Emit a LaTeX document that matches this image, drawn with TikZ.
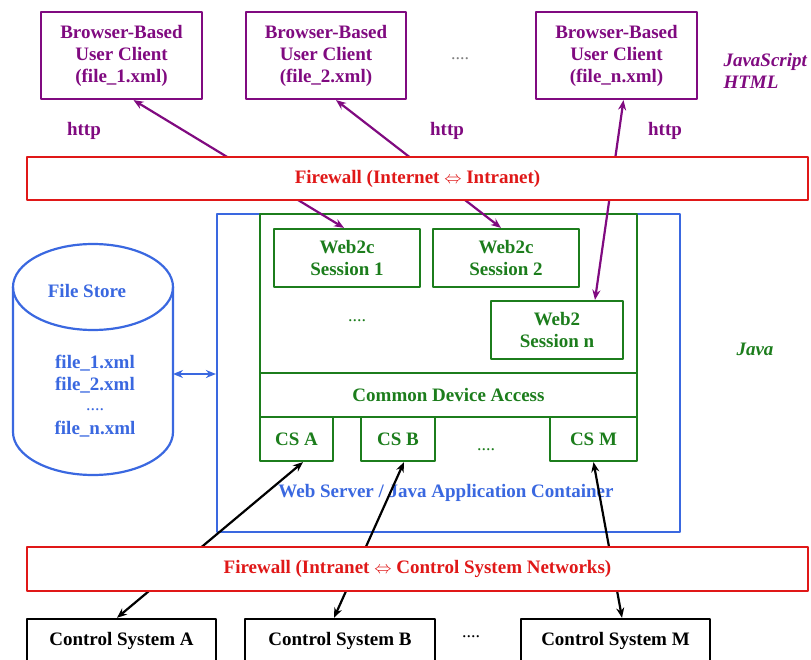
\documentclass[tikz,border=0pt]{standalone}
\usepackage{fontspec}
\setmainfont{Liberation Serif}
\usetikzlibrary{arrows.meta}
\definecolor{wpurple}{HTML}{800A80}
\definecolor{wred}{HTML}{E01818}
\definecolor{wgreen}{HTML}{1C7D1C}
\definecolor{wblue}{HTML}{3A68E0}
\begin{document}
\begin{tikzpicture}[x=1pt, y=-1pt, line join=round, >={Stealth[length=10pt, width=8pt]},
  font=\fontsize{19}{22}\selectfont\bfseries,
  client/.style={draw=wpurple, text=wpurple, line width=2.2pt, minimum width=161, minimum height=87, align=center, inner sep=0pt},
  fwall/.style={draw=wred, fill=white, text=wred, line width=2.8pt, minimum width=781, minimum height=43, inner sep=0pt},
  grn/.style={draw=wgreen, text=wgreen, line width=2.2pt, minimum height=44, inner sep=0pt, align=center},
  ctrl/.style={draw, line width=2.4pt, minimum width=189, minimum height=44, inner sep=0pt},
  dots/.style={font=\fontsize{18}{20}\selectfont\mdseries},
  pline/.style={<->, wpurple, line width=2.2pt},
  kline/.style={<->, black, line width=2.2pt}]
\useasboundingbox (0,0) rectangle (811,660);
% web server / java container
\path
(448.5,373) node[draw=wblue, line width=2.2pt, minimum width=463, minimum height=318] (web) {}
(446,493) node[text=wblue] (wlab) {Web Server / Java Application Container}
(448.5,293.5) node[grn, minimum width=377, minimum height=159] (app) {}
(448.5,395) node[grn, minimum width=377] (cda) {Common Device Access}
(296.5,439) node[grn, minimum width=73] (csa) {CS A}
(398,439) node[grn, minimum width=74] (csb) {CS B}
(593.5,439) node[grn, minimum width=87] (csm) {CS M}
(486,450) node[dots, text=wgreen] (csdots) {....}
(347,258) node[grn, minimum width=146, minimum height=58] (s1) {Web2c\\Session 1}
(506,258) node[grn, minimum width=146, minimum height=58] (s2) {Web2c\\Session 2}
(557,330) node[grn, minimum width=132, minimum height=58] (sn) {Web2\\Session n}
(357,321) node[dots, text=wgreen] (sdots) {....}
(755,349) node[text=wgreen, font=\fontsize{19}{22}\selectfont\bfseries\itshape] (java) {Java};
% clients
\path
(121.5,55.5) node[client] (b1) {Browser-Based\\User Client\\(file\_1.xml)}
(326,55.5) node[client, minimum width=160] (b2) {Browser-Based\\User Client\\(file\_2.xml)}
(616.5,55.5) node[client] (bn) {Browser-Based\\User Client\\(file\_n.xml)}
(460,59) node[dots, text=gray] (bdots) {....}
(720,71) node[anchor=west, align=left, text=wpurple, font=\fontsize{19}{22}\selectfont\bfseries\itshape] (js) {JavaScript\\HTML}
(84,131) node[text=wpurple] (h1) {http}
(447,131) node[text=wpurple] (h2) {http}
(665,131) node[text=wpurple] (h3) {http};
% control systems
\path
(121.5,641) node[ctrl] (ca) {Control System A}
(340,641) node[ctrl, minimum width=190] (cb) {Control System B}
(615.5,641) node[ctrl] (cm) {Control System M}
(471,637) node[dots] (cdots) {....};
% links
\draw[pline] ([xshift=12]b1.south)--([xshift=-3]s1.north);
\draw[pline] ([xshift=10]b2.south)--([xshift=-5]s2.north);
\draw[pline] ([xshift=7]bn.south)--([xshift=38]sn.north);
\draw[kline] ([xshift=6.5]csa.south)--([xshift=-4.5]ca.north);
\draw[kline] ([xshift=6]csb.south)--([xshift=-6]cb.north);
\draw[kline] (csm.south)--([xshift=6.5]cm.north);
% firewalls
\path
(417.5,178.5) node[fwall] (fw1) {Firewall (Internet $\Leftrightarrow$ Intranet)}
(417.5,569) node[fwall, minimum height=44] (fw2) {Firewall (Intranet $\Leftrightarrow$ Control System Networks)};
% file store
\draw[wblue, line width=2.2pt] (13,287)--(13,432) arc[start angle=180, end angle=360, x radius=80pt, y radius=43pt]--(173,287);
\draw[wblue, line width=2.2pt] (93,287) ellipse[x radius=80pt, y radius=43pt];
\path
(87,291) node[text=wblue] (fs) {File Store}
(95,396) node[text=wblue, align=center] (fl) {file\_1.xml\\file\_2.xml\\[-2pt]{\mdseries\fontsize{18}{15}\selectfont ....}\\[2pt]file\_n.xml};
\coordinate (fsE) at (173,374);
\draw[<->, wblue, line width=2.2pt] (fsE)--(fsE -| web.west);
\end{tikzpicture}
\end{document}
